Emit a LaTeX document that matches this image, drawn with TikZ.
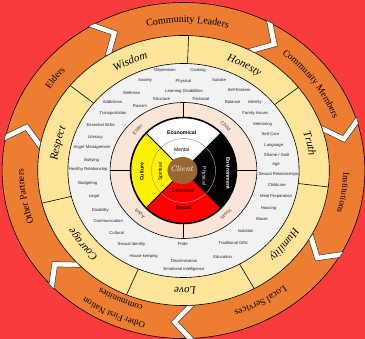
\documentclass[tikz,border=0pt]{standalone}
\usepackage{fontspec}
\newfontfamily\arialf{Liberation Sans}
\newfontfamily\tnrf{Liberation Serif}
\usetikzlibrary{decorations.text}
\definecolor{bgred}{RGB}{248,60,60}
\definecolor{orng}{RGB}{237,125,49}
\definecolor{ylw}{RGB}{255,229,153}
\definecolor{gry}{RGB}{242,242,242}
\definecolor{pnk}{RGB}{251,229,214}
\definecolor{brn}{RGB}{153,102,51}
\definecolor{mauve}{RGB}{200,140,160}
\newcommand\arctext[6]{%
 \path[decorate,decoration={text along path,text align=center,text={|#1|#6}}]
 ({#4*cos(#2+#3)},{#5*sin(#2+#3)}) arc[start angle={#2+#3},end angle={#2-#3},x radius=#4pt,y radius=#5pt];}
\tikzset{
 ringline/.style={line width=0.6pt},
 glab/.style={font=\arialf\fontsize{4.2}{5}\selectfont, text=black!85, inner sep=0pt},
 wlab/.style={font=\arialf\fontsize{5}{6}\selectfont, inner sep=0pt},
 wbold/.style={font=\arialf\bfseries\fontsize{5.2}{6}\selectfont, inner sep=0pt},
 chev/.style={fill=white, draw=black!80, line width=0.5pt}
}
\begin{document}
\begin{tikzpicture}[x=1pt,y=1pt]
\useasboundingbox (-183.5,-168.5) rectangle (181.5,170.5);
\fill[bgred] (-183.5,-168.5) rectangle (181.5,170.5);
\draw[ringline, fill=orng] (0,0) ellipse[x radius=181.4pt, y radius=168pt];
\draw[ringline, fill=ylw] (0,0) ellipse[x radius=145.8pt, y radius=135pt];
\draw[ringline, fill=gry] (0,0) ellipse[x radius=115.6pt, y radius=107pt];
\draw[ringline, fill=pnk] (0,0) ellipse[x radius=73.4pt, y radius=68pt];
\foreach \a in {0,90,180,270} \draw[ringline] (\a:53pt) -- ({73.4*cos(\a)},{68*sin(\a)});
% wheel
\fill[white] (0,0) -- (45:53pt) arc[start angle=45,end angle=135,radius=53pt] -- cycle;
\fill[yellow] (0,0) -- (135:53pt) arc[start angle=135,end angle=225,radius=53pt] -- cycle;
\fill[red] (0,0) -- (225:53pt) arc[start angle=225,end angle=315,radius=53pt] -- cycle;
\fill[black] (0,0) -- (-45:53pt) arc[start angle=-45,end angle=45,radius=53pt] -- cycle;
\draw[mauve, line width=0.5pt] (0,0) circle[radius=32pt];
\foreach \a in {45,135,225,315} \draw[line width=0.8pt] (0,0) -- (\a:53pt);
\draw[line width=1.6pt] (0,0) circle[radius=53pt];
\fill[brn] (-1,0) ellipse[x radius=15pt, y radius=13.5pt];
% yellow ring dividers
\foreach \a in {88,38,-7,-61,-113,-166,141}
  \draw[ringline] ({115.6*cos(\a)},{107*sin(\a)}) -- ({145.8*cos(\a)},{135*sin(\a)});
% chevrons
\foreach \a in {117.8,59.2,14.8,-32.4,-90.3,-139,166.2} {
  \begin{scope}[xscale=1.08, rotate=\a]
  \draw[chev] (168.5,4) -- (151.5,-11) -- (135,4) -- (135,11) -- (151.5,-4) -- (168.5,11) -- cycle;
  \end{scope}}
% orange ring texts
\arctext{\tnrf\fontsize{10}{10}\selectfont}{88.5}{30}{159.8}{148}{Community Leaders}
\arctext{\tnrf\fontsize{9.5}{10}\selectfont}{36}{22}{159.8}{148}{Community Members}
\arctext{\tnrf\fontsize{9}{10}\selectfont}{-8.5}{22}{159.8}{148}{Institutions}
\arctext{\tnrf\fontsize{9.5}{10}\selectfont}{-61}{25}{159.8}{148}{Local Services}
\arctext{\tnrf\fontsize{9}{10}\selectfont}{-114.6}{24}{168.5}{156}{Other First Nation}
\arctext{\tnrf\fontsize{9}{10}\selectfont}{-114.6}{24}{151.2}{140}{communities}
\arctext{\tnrf\fontsize{9.5}{10}\selectfont}{-170}{22}{159.8}{148}{Other Partners}
\arctext{\tnrf\fontsize{9.5}{10}\selectfont}{142.5}{22}{159.8}{148}{Elders}
% yellow ring texts
\foreach \c/\t in {114.7/Wisdom,61.5/Honesty,12.8/Truth,-38/Humility,-89.3/Love,-141.8/Courage,167/Respect}
  {\arctext{\tnrf\itshape\fontsize{11}{12}\selectfont}{\c}{22}{126.4}{117}{\t}}
% pink ring texts
\foreach \c/\t in {137/Elder,48/Child,-47/Youth,-134/Adult}
  {\arctext{\arialf\fontsize{5}{6}\selectfont\color{black!75}}{\c}{25}{61.5}{58}{\t}}
% wheel texts
\node[wbold] (eco) at (-1.8,38.2) {Economical};
\node[wlab] (men) at (-1.8,21.2) {Mental};
\node[wbold, text=white, rotate=-90] (env) at (44.8,-2.8) {Environment};
\node[wlab, text=white, rotate=-90] (phy) at (20.5,-5.5) {Physical};
\node[wlab] (emo) at (-0.2,-20.2) {Emotional};
\node[wbold] (soc) at (-0.2,-36.8) {Social};
\node[wbold, rotate=90] (cul) at (-41.8,-1.2) {Culture};
\node[wlab, rotate=90] (spi) at (-22.8,-1.2) {Spiritual};
\node[font=\itshape\fontsize{8}{9}\selectfont, text=white, inner sep=0pt] (cli) at (-1.8,1.5) {Client};
% grey ring labels
\begin{scope}[shift={(-183.5,170.5)}, yscale=-1]
\foreach \x/\y/\t [count=\i] in {
 165/70.7/Depression, 198/70.7/Cooking, 145/80.7/Anxiety, 183.5/81.5/Physical,
 219/80.5/Suicide, 131.7/93.5/Wellness, 184/91.7/Learning Disabilities,
 239/90.5/Self-Esteem, 161.5/99.3/Structure, 201/99.3/Financial,
 112.5/102.5/Addictions, 140/106.5/Racism, 232.7/102.3/Balance, 255/102.3/Identity,
 113/113.3/Transportation, 255.2/113.3/Family Issues, 100.7/124.7/Essential Skills,
 262.7/124/Mentoring, 270.5/133.8/Self-Care, 95.5/137/Literacy, 273.8/145.5/Language,
 92/147.2/Anger Management, 276.7/155.2/{Shame / Guilt}, 91.7/160/Bullying, 276/164.8/Age,
 88.2/169.5/Healthy Relationship, 278.5/174/Sexual Relationships, 87.8/183.7/Budgeting,
 276.8/185/Childcare, 94/196.5/Legal, 276/196.2/Meal Preparation, 100.3/210/Disability,
 268.5/208.2/Housing, 108.3/221.5/Communication, 261.8/219/Abuse, 116.7/233.3/Cultural,
 245.7/231.2/Isolation, 131.5/244.3/Sexual Identity, 233.2/242.8/Traditional Gifts,
 182.7/244.3/Pride, 143.7/256.2/House keeping, 222.7/257/Education,
 184/261/Discrimination, 184/269/Emotional intelligence}
 \node[glab] (g\i) at (\x,\y) {\t};
\end{scope}
\end{tikzpicture}
\end{document}
